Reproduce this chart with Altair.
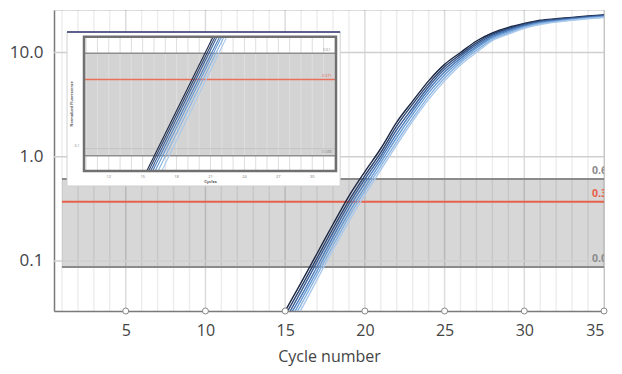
import altair as alt
import pandas as pd

# ---------------- data ----------------
cycles = list(range(15, 36))
run_names = ["R1", "R2", "R3", "R4", "R5", "R6", "R7"]
run_colors = ["#1b2745", "#2b436e", "#3b5f97", "#4c7dbd", "#679ad2", "#88b3e1", "#a9c8ec"]

run1 = [0.033, 0.062, 0.118, 0.225, 0.42, 0.72, 1.2, 2.15, 3.42, 5.35, 7.7, 10.0, 12.9, 15.4, 17.4, 19.0, 20.4, 21.1, 21.7, 22.4, 23.0]
run2 = [0.030, 0.056, 0.107, 0.205, 0.38, 0.66, 1.1, 1.98, 3.2, 5.0, 7.3, 9.6, 12.4, 15.0, 17.0, 18.7, 20.1, 20.9, 21.5, 22.2, 22.8]
run3 = [0.027, 0.051, 0.098, 0.187, 0.35, 0.61, 1.02, 1.82, 2.95, 4.7, 6.9, 9.2, 11.9, 14.6, 16.6, 18.4, 19.8, 20.6, 21.3, 22.0, 22.6]
run4 = [0.025, 0.046, 0.088, 0.17, 0.32, 0.56, 0.95, 1.67, 2.75, 4.4, 6.5, 8.8, 11.4, 14.2, 16.2, 18.0, 19.5, 20.3, 21.0, 21.7, 22.3]
run5 = [0.022, 0.042, 0.080, 0.155, 0.29, 0.51, 0.88, 1.53, 2.55, 4.1, 6.1, 8.4, 11.0, 13.8, 15.8, 17.7, 19.2, 20.0, 20.8, 21.5, 22.1]
run6 = [0.020, 0.038, 0.073, 0.14, 0.265, 0.47, 0.81, 1.4, 2.35, 3.8, 5.7, 8.0, 10.5, 13.4, 15.4, 17.4, 18.9, 19.8, 20.6, 21.3, 21.9]
run7 = [0.018, 0.034, 0.066, 0.128, 0.24, 0.43, 0.75, 1.3, 2.2, 3.55, 5.35, 7.6, 10.0, 13.0, 15.0, 17.1, 18.6, 19.6, 20.4, 21.1, 21.7]
runs = [run1, run2, run3, run4, run5, run6, run7]

x_ticks = [5, 10, 15, 20, 25, 30, 35]
y_ticks = [0.1, 1, 10]
grid_cycles = list(range(1, 36))
band_start, band_end = 1, 35
band_hi, band_lo, threshold = 0.61, 0.0876, 0.371
band_labels = ["0.61", "0.371", "0.088"]
band_label_vals = [band_hi, threshold, band_lo]
band_label_cols = ["#8c8c8c", "#e8604c", "#8c8c8c"]
label_cycle = 34.25

# inset (its own axes)
inset_ticks = [12, 15, 18, 21, 24, 27, 30]
inset_grid = list(range(10, 33))
inset_x0, inset_x1 = 9.81, 32.1
inset_lo, inset_hi = 0.0655, 0.835
box_x0, box_x1, box_lo, box_hi = 8.31, 32.47, 0.0493, 0.913
inset_start = [15.36, 15.52, 15.70, 15.88, 16.10, 16.36, 16.69]
inset_end = [21.23, 21.41, 21.58, 21.81, 21.98, 22.20, 22.44]
inset_label_cycle = 31.3

FONT = "Open Sans"

# ---------------- frames ----------------
curves = pd.DataFrame([
    {"run": n, "cycle": c, "value": v}
    for n, r in zip(run_names, runs) for c, v in zip(cycles, r)
])
inset_lines = pd.DataFrame(
    [{"run": n, "cycle": s, "value": inset_lo} for n, s in zip(run_names, inset_start)]
    + [{"run": n, "cycle": e, "value": inset_hi} for n, e in zip(run_names, inset_end)]
)

xs = alt.Scale(domain=[0.5, 35], nice=False, zero=False)
ys = alt.Scale(type="log", domain=[0.0331, 25.6], nice=False)
x_axis = alt.Axis(values=x_ticks, title="Cycle number", grid=False, ticks=False,
                  labelPadding=11, titlePadding=10, domainColor="#7a7a7a", domainWidth=1.5,
                  labelFontSize=16, titleFontSize=16, labelColor="#444", titleColor="#444",
                  titleFontWeight="normal", labelFont=FONT, titleFont=FONT)
y_axis = alt.Axis(values=y_ticks, format=".1f", title=None, grid=False, ticks=False,
                  labelPadding=11, domainColor="#7a7a7a", domainWidth=1.5,
                  labelFontSize=17, labelColor="#444", labelFont=FONT)


def MX(f):
    return alt.X(f, type="quantitative", scale=xs, axis=x_axis)


def MY(f):
    return alt.Y(f, type="quantitative", scale=ys, axis=y_axis)


color = alt.Color("run:N", scale=alt.Scale(domain=run_names, range=run_colors), legend=None)

band_df = pd.DataFrame({"x": [band_start], "x2": [band_end], "lo": [band_lo], "hi": [band_hi]})
band = alt.Chart(band_df).mark_rect(color="#d7d7d7").encode(
    x=MX("x"), x2="x2", y=MY("lo"), y2="hi")

vg_df = pd.DataFrame({"c": grid_cycles, "major": [c % 5 == 0 for c in grid_cycles]})
vgrid = alt.Chart(vg_df).mark_rule(color="#000", strokeWidth=1.5).encode(
    x=MX("c"),
    opacity=alt.condition("datum.major", alt.value(0.14), alt.value(0.07)))

hgrid = alt.Chart(pd.DataFrame({"v": y_ticks})).mark_rule(color="#cfcfcf", strokeWidth=1.5).encode(
    y=MY("v"))

blines_df = pd.DataFrame({"x": [band_start] * 2, "x2": [band_end] * 2, "v": [band_hi, band_lo]})
blines = alt.Chart(blines_df).mark_rule(color="#8a8a8a", strokeWidth=2).encode(
    x=MX("x"), x2="x2", y=MY("v"))

red_df = pd.DataFrame({"x": [band_start], "x2": [band_end], "v": [threshold]})
red = alt.Chart(red_df).mark_rule(color="#e8604c", strokeWidth=2).encode(
    x=MX("x"), x2="x2", y=MY("v"))

lines = alt.Chart(curves).mark_line(strokeWidth=1.4, clip=True, interpolate="monotone").encode(
    x=MX("cycle"), y=MY("value"), color=color, detail="run:N")

lab_df = pd.DataFrame({"x": [label_cycle] * 3, "v": band_label_vals,
                       "t": band_labels, "col": band_label_cols})
labels = alt.Chart(lab_df).mark_text(align="left", baseline="bottom", dy=-3, fontSize=10.5,
                                     fontWeight="bold", font=FONT, clip=True).encode(
    x=MX("x"), y=MY("v"), text="t:N", color=alt.Color("col:N", scale=None))

tk_df = pd.DataFrame({"x": x_ticks, "v": [0.0331] * len(x_ticks)})
tick_pts = alt.Chart(tk_df).mark_point(filled=True, fill="white", stroke="#888", strokeWidth=1,
                                       size=36, opacity=1).encode(x=MX("x"), y=MY("v"))

main = alt.layer(band, vgrid, hgrid, blines, red, lines, labels, tick_pts)

# ---------------- inset ----------------
ixs = alt.Scale(domain=[inset_x0, inset_x1], range=[30, 282], nice=False, zero=False)
iys = alt.Scale(type="log", domain=[inset_lo, inset_hi], range=[161, 26.7], nice=False)


def IX(f):
    return alt.X(f, type="quantitative", scale=ixs, axis=None)


def IY(f):
    return alt.Y(f, type="quantitative", scale=iys, axis=None)


box = alt.Chart(pd.DataFrame({"x": [box_x0], "x2": [box_x1], "lo": [box_lo], "hi": [box_hi]})).mark_rect(
    fill="white", stroke="#d0d0d0", strokeWidth=1).encode(x=IX("x"), x2="x2", y=IY("lo"), y2="hi")
box_top = alt.Chart(pd.DataFrame({"x": [box_x0], "x2": [box_x1], "v": [box_hi]})).mark_rule(
    color="#2f3471", strokeWidth=1.5).encode(x=IX("x"), x2="x2", y=IY("v"))
iband = alt.Chart(pd.DataFrame({"x": [inset_x0], "x2": [inset_x1], "lo": [band_lo], "hi": [band_hi]})).mark_rect(
    color="#d3d3d3").encode(x=IX("x"), x2="x2", y=IY("lo"), y2="hi")
igrid = alt.Chart(pd.DataFrame({"c": inset_grid, "lo": inset_lo, "hi": inset_hi})).mark_rule(
    color="#dedede", strokeWidth=1).encode(x=IX("c"), y=IY("lo"), y2="hi")
i01 = alt.Chart(pd.DataFrame({"x": [inset_x0], "x2": [inset_x1], "v": [0.1]})).mark_rule(
    color="#c4c4c4", strokeWidth=1).encode(x=IX("x"), x2="x2", y=IY("v"))
iblines = alt.Chart(pd.DataFrame({"x": [inset_x0] * 2, "x2": [inset_x1] * 2, "v": [band_hi, band_lo]})).mark_rule(
    color="#8f8f8f", strokeWidth=1.5).encode(x=IX("x"), x2="x2", y=IY("v"))
ired = alt.Chart(pd.DataFrame({"x": [inset_x0], "x2": [inset_x1], "v": [threshold]})).mark_rule(
    color="#ea6f5a", strokeWidth=1.5).encode(x=IX("x"), x2="x2", y=IY("v"))
ilines = alt.Chart(inset_lines).mark_line(strokeWidth=1.1).encode(
    x=IX("cycle"), y=IY("value"), color=color, detail="run:N")
iframe = alt.Chart(pd.DataFrame({"x": [inset_x0], "x2": [inset_x1], "lo": [inset_lo], "hi": [inset_hi]})).mark_rect(
    fill=None, filled=False, stroke="#707070", strokeWidth=2.5).encode(x=IX("x"), x2="x2", y=IY("lo"), y2="hi")
itick = alt.Chart(pd.DataFrame({"c": inset_ticks, "v": 0.0585, "t": [str(t) for t in inset_ticks]})).mark_text(
    fontSize=4, color="#777", font=FONT).encode(x=IX("c"), y=IY("v"), text="t:N")
ititle = alt.Chart(pd.DataFrame({"c": [21], "v": [0.0527], "t": ["Cycles"]})).mark_text(
    fontSize=4, color="#555", fontWeight="bold", font=FONT).encode(x=IX("c"), y=IY("v"), text="t:N")
iytitle = alt.Chart(pd.DataFrame({"c": [8.75], "v": [0.234], "t": ["Normalized Fluorescence"]})).mark_text(
    fontSize=3.6, color="#555", fontWeight="bold", angle=270, font=FONT).encode(x=IX("c"), y=IY("v"), text="t:N")
iy01 = alt.Chart(pd.DataFrame({"c": [9.2], "v": [0.1], "t": ["0.1"]})).mark_text(
    fontSize=3.6, color="#777", baseline="bottom", dy=-1, font=FONT).encode(x=IX("c"), y=IY("v"), text="t:N")
ilab = alt.Chart(pd.DataFrame({"c": [inset_label_cycle] * 3, "v": band_label_vals,
                               "t": band_labels, "col": band_label_cols})).mark_text(
    fontSize=3.8, baseline="bottom", dy=-1.5, font=FONT).encode(
    x=IX("c"), y=IY("v"), text="t:N", color=alt.Color("col:N", scale=None))

inset = alt.layer(box, box_top, iband, igrid, i01, iblines, ired, ilines, iframe,
                  itick, ititle, iytitle, iy01, ilab)

chart = alt.layer(main, inset).resolve_scale(x="independent", y="independent").properties(
    width=550, height=301,
    autosize=alt.AutoSizeParams(type="none"),
    padding={"left": 46, "top": 2, "right": 10, "bottom": 55},
).configure_view(stroke=None).configure(font=FONT)

chart.save("out.html", embed_options={"renderer": "svg", "actions": False})
